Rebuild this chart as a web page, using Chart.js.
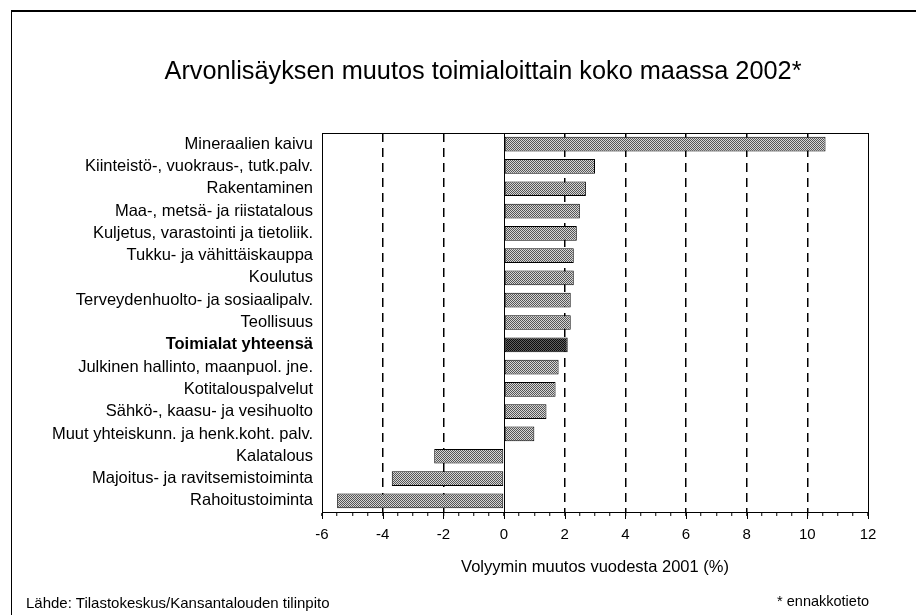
<!DOCTYPE html>
<html lang="fi">
<head>
<meta charset="utf-8">
<title>Arvonlisäyksen muutos toimialoittain koko maassa 2002*</title>
<script src="https://cdn.jsdelivr.net/npm/chart.js@4/dist/chart.umd.min.js"></script>
<style>
  html, body { margin: 0; padding: 0; background: #fff; }
  #wrap { position: relative; width: 916px; height: 615px; overflow: hidden; background: #fff;
          font-family: "Liberation Sans", Arial, sans-serif; color: #000; }
  #frameTop { position: absolute; left: 11px; top: 10px; width: 905px; height: 0; border-top: 2px solid #000; }
  #frameLeft { position: absolute; left: 11px; top: 10px; width: 0; height: 605px; border-left: 1.5px solid #000; }
  #title { position: absolute; left: 0; width: 966px; top: 55px; text-align: center; font-size: 25.3px; line-height: 30px; }
  #source { position: absolute; left: 26px; top: 594px; font-size: 15px; line-height: 18px; }
  #note { position: absolute; right: 47px; top: 592px; font-size: 14.5px; line-height: 18px; }
  canvas { position: absolute; left: 0; top: 0; }
</style>
</head>
<body>
<div id="wrap">
  <canvas id="chart" width="916" height="615"></canvas>
  <div id="frameTop"></div>
  <div id="frameLeft"></div>
  <div id="title">Arvonlisäyksen muutos toimialoittain koko maassa 2002*</div>
  <div id="source">Lähde: Tilastokeskus/Kansantalouden tilinpito</div>
  <div id="note">* ennakkotieto</div>
</div>
<script>
// Toimialat ja arvonlisäyksen volyymimuutos 2002 (%)
const industries = [
  'Mineraalien kaivu',
  'Kiinteistö-, vuokraus-, tutk.palv.',
  'Rakentaminen',
  'Maa-, metsä- ja riistatalous',
  'Kuljetus, varastointi ja tietoliik.',
  'Tukku- ja vähittäiskauppa',
  'Koulutus',
  'Terveydenhuolto- ja sosiaalipalv.',
  'Teollisuus',
  'Toimialat yhteensä',
  'Julkinen hallinto, maanpuol. jne.',
  'Kotitalouspalvelut',
  'Sähkö-, kaasu- ja vesihuolto',
  'Muut yhteiskunn. ja henk.koht. palv.',
  'Kalatalous',
  'Majoitus- ja ravitsemistoiminta',
  'Rahoitustoiminta'
];
const volumeChange = [10.6, 3.0, 2.7, 2.5, 2.4, 2.3, 2.3, 2.2, 2.2, 2.1, 1.8, 1.7, 1.4, 1.0, -2.3, -3.7, -5.5];
const totalLabel = 'Toimialat yhteensä';

const xMin = -6, xMax = 12;
const xTickLabels = ['-6', '-4', '-2', '0', '2', '4', '6', '8', '10', '12'];
const xTitle = 'Volyymin muutos vuodesta 2001 (%)';

const FONT = '"Liberation Sans", Arial, sans-serif';

// stippled fills for the bars
function stipple(dark, light) {
  const c = document.createElement('canvas');
  c.width = 2; c.height = 2;
  const g = c.getContext('2d');
  g.fillStyle = light; g.fillRect(0, 0, 2, 2);
  g.fillStyle = dark; g.fillRect(0, 0, 1, 1); g.fillRect(1, 1, 1, 1);
  return g.createPattern(c, 'repeat');
}
const ctx = document.getElementById('chart').getContext('2d');
const normalFill = stipple('#555555', '#d6d6d6');
const totalFill = stipple('#0c0c0c', '#606060');

// frame around the plot, solid zero line and longer marks at labelled ticks
const plotFrame = {
  id: 'plotFrame',
  afterDatasetsDraw(chart) {
    const { ctx, chartArea: a, scales: { x } } = chart;
    ctx.save();
    ctx.strokeStyle = '#000';
    ctx.lineWidth = 1;
    ctx.strokeRect(Math.round(a.left) + 0.5, Math.round(a.top) + 0.5,
                   Math.round(a.right - a.left), Math.round(a.bottom - a.top));
    const zx = Math.round(x.getPixelForValue(0)) + 0.5;
    ctx.beginPath();
    ctx.moveTo(zx, a.top);
    ctx.lineTo(zx, a.bottom);
    xTickLabels.forEach(t => {
      const px = Math.round(x.getPixelForValue(Number(t))) + 0.5;
      ctx.moveTo(px, a.bottom);
      ctx.lineTo(px, a.bottom + 7);
    });
    ctx.stroke();
    ctx.restore();
  }
};

new Chart(ctx, {
  type: 'bar',
  data: {
    labels: industries,
    datasets: [{
      data: volumeChange,
      backgroundColor: industries.map(n => n === totalLabel ? totalFill : normalFill),
      borderColor: '#000',
      borderWidth: 1,
      borderSkipped: false,
      barPercentage: 0.66,
      categoryPercentage: 1
    }]
  },
  options: {
    indexAxis: 'y',
    responsive: false,
    animation: false,
    events: [],
    layout: { padding: { left: 12, right: 48, top: 133, bottom: 0 } },
    plugins: {
      legend: { display: false },
      tooltip: { enabled: false },
      title: { display: false }
    },
    scales: {
      x: {
        type: 'linear',
        min: xMin,
        max: xMax,
        afterFit(scale) { scale.height = 103; },
        ticks: {
          stepSize: 0.5,
          autoSkip: false,
          maxRotation: 0,
          padding: 10,
          color: '#000',
          font: { family: FONT, size: 15 },
          callback(v) {
            const s = String(v);
            return xTickLabels.includes(s) ? s : '';
          }
        },
        grid: {
          drawOnChartArea: true,
          drawTicks: true,
          tickLength: 4,
          lineWidth: 1.5,
          color(c) {
            const v = c.tick && c.tick.value;
            if (v === undefined) return 'rgba(0,0,0,0)';
            const major = xTickLabels.includes(String(v));
            return (major && v !== 0 && v !== xMin && v !== xMax) ? '#000' : 'rgba(0,0,0,0)';
          },
          tickColor: '#000',
          tickWidth: 1
        },
        border: { display: true, color: '#000', width: 1, dash: [9, 6] },
        title: {
          display: true,
          text: xTitle,
          color: '#000',
          font: { family: FONT, size: 16.5 },
          padding: { top: 0, bottom: 38 }
        }
      },
      y: {
        afterFit(scale) { scale.width = 310; },
        ticks: {
          autoSkip: false,
          padding: 9,
          color: '#000',
          font(c) {
            const bold = industries[c.index] === totalLabel;
            return { family: FONT, size: 16.5, weight: bold ? 'bold' : 'normal' };
          }
        },
        grid: { display: false, drawTicks: false },
        border: { display: true, color: '#000', width: 1 }
      }
    }
  },
  plugins: [plotFrame]
});
</script>
</body>
</html>
